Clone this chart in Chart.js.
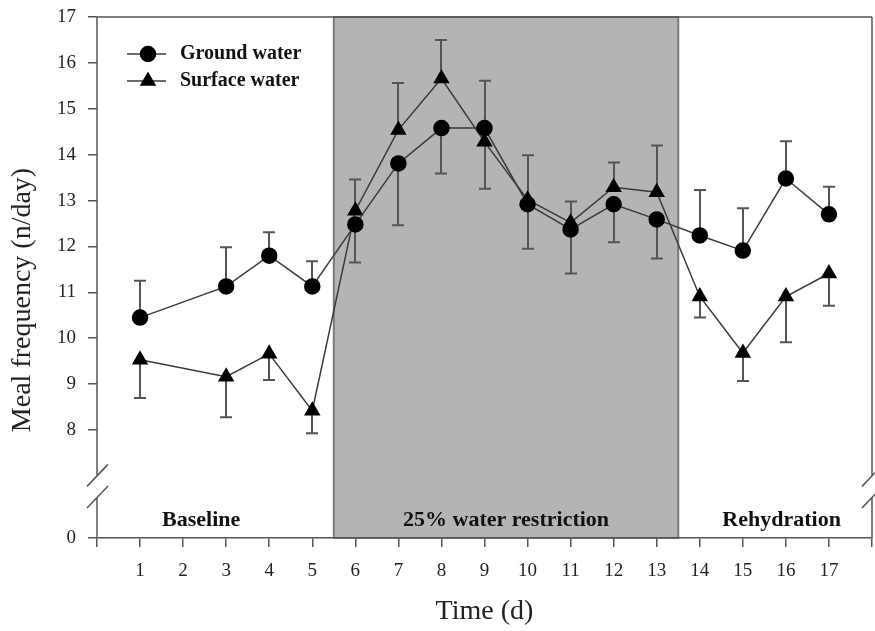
<!DOCTYPE html>
<html>
<head>
<meta charset="utf-8">
<title>Meal frequency</title>
<script src="https://cdn.jsdelivr.net/npm/chart.js@4/dist/chart.umd.min.js"></script>
<style>
  html, body { margin: 0; padding: 0; background: #fff; overflow: hidden; }
  canvas { display: block; }
</style>
</head>
<body>
<canvas id="mealChart" width="875" height="631"></canvas>
<script>
// values (n/day), day 2 has no sample
const days = [1, 3, 4, 5, 6, 7, 8, 9, 10, 11, 12, 13, 14, 15, 16, 17];
const groundWater = [10.45, 11.13, 11.80, 11.13, 12.48, 13.81, 14.58, 14.58, 12.92, 12.37, 12.92, 12.59, 12.24, 11.91, 13.48, 12.70];
const groundSE = [0.80, 0.85, 0.51, 0.55, 0.83, 1.35, 0.99, 1.03, 0.97, 0.96, 0.83, 0.85, 0.99, 0.92, 0.81, 0.60];
const surfaceWater = [9.53, 9.16, 9.66, 8.42, 12.78, 14.54, 15.66, 14.28, 13.02, 12.52, 13.29, 13.18, 10.91, 9.68, 10.91, 11.41];
const surfaceSE = [0.83, 0.88, 0.57, 0.49, 0.68, 1.02, 0.84, 1.02, 0.97, 0.46, 0.54, 1.02, 0.46, 0.61, 1.00, 0.70];
const yTicks = [0, 8, 9, 10, 11, 12, 13, 14, 15, 16, 17];
const phaseNames = ['Baseline', '25% water restriction', 'Rehydration'];
const restriction = [5.5, 13.5]; // shaded days

// broken axis: 0 is drawn just below the 8..17 part
const yZero = 5.647;
const toAxis = v => (v === 0 ? yZero : v);

const SERIF = "'Liberation Serif', 'Times New Roman', serif";
const AXIS = '#555';

const shading = {
    id: 'shading',
    beforeDraw(chart) {
        const {ctx, chartArea: a, scales: {x}} = chart;
        const x0 = x.getPixelForValue(restriction[0]);
        const x1 = x.getPixelForValue(restriction[1]);
        ctx.save();
        ctx.fillStyle = '#b4b4b4';
        ctx.fillRect(x0, a.top, x1 - x0, a.bottom - a.top);
        ctx.strokeStyle = '#7a7a7a';
        ctx.lineWidth = 2;
        ctx.strokeRect(x0, a.top, x1 - x0, a.bottom - a.top);
        ctx.restore();
    }
};

const errorBars = {
    id: 'errorBars',
    beforeDatasetsDraw(chart) {
        const {ctx, scales: {x, y}} = chart;
        const sets = chart.data.datasets;
        ctx.save();
        ctx.strokeStyle = '#555';
        ctx.lineWidth = 2;
        sets.forEach((ds, i) => {
            const other = sets[1 - i];
            ds.data.forEach((p, j) => {
                // bar points away from the other series
                const up = p.y >= other.data[j].y;
                const end = up ? p.y + ds.errors[j] : p.y - ds.errors[j];
                const px = Math.round(x.getPixelForValue(p.x));
                const py = y.getPixelForValue(p.y);
                const pe = y.getPixelForValue(end);
                ctx.beginPath();
                ctx.moveTo(px, py);
                ctx.lineTo(px, pe);
                ctx.moveTo(px - 6, pe);
                ctx.lineTo(px + 6, pe);
                ctx.stroke();
            });
        });
        ctx.restore();
    }
};

const frame = {
    id: 'frame',
    afterDraw(chart) {
        const {ctx, chartArea: a, scales: {x, y}} = chart;
        const p8 = y.getPixelForValue(8);
        const p0 = y.getPixelForValue(yZero);
        const b1 = p8 + (p0 - p8) * 0.42;
        const b2 = p8 + (p0 - p8) * 0.62;
        ctx.save();
        ctx.strokeStyle = AXIS;
        ctx.lineWidth = 1.5;
        ctx.beginPath();
        ctx.moveTo(a.left, a.top);
        ctx.lineTo(a.right, a.top);
        [a.left, a.right].forEach(ex => {
            ctx.moveTo(ex, a.top);
            ctx.lineTo(ex, b1);
            ctx.moveTo(ex, b2);
            ctx.lineTo(ex, a.bottom);
            // break marks
            [b1, b2].forEach(by => {
                ctx.moveTo(ex - 10, by + 11);
                ctx.lineTo(ex + 11, by - 11);
            });
        });
        ctx.stroke();

        // phase names
        ctx.fillStyle = '#111';
        ctx.font = 'bold 22px ' + SERIF;
        ctx.textAlign = 'center';
        ctx.textBaseline = 'alphabetic';
        const labelX = [2.42, 9.5, 15.9];
        phaseNames.forEach((t, i) => ctx.fillText(t, x.getPixelForValue(labelX[i]), 526));

        // legend
        ctx.font = 'bold 20px ' + SERIF;
        ctx.textAlign = 'left';
        ctx.textBaseline = 'middle';
        chart.data.datasets.forEach((ds, i) => {
            const ly = 54 + i * 27;
            ctx.strokeStyle = ds.borderColor;
            ctx.lineWidth = 1.5;
            ctx.beginPath();
            ctx.moveTo(127, ly);
            ctx.lineTo(166, ly);
            ctx.stroke();
            ctx.fillStyle = '#000';
            ctx.strokeStyle = '#000';
            Chart.helpers.drawPoint(ctx, {pointStyle: ds.pointStyle, radius: ds.pointRadius, borderWidth: 1}, 148, ly);
            ctx.fillStyle = '#111';
            ctx.fillText(ds.label, 180, ly);
        });

        // y title, sits a little below the middle in the original
        ctx.font = '28px ' + SERIF;
        ctx.fillStyle = '#222';
        ctx.textAlign = 'center';
        ctx.translate(23, 300);
        ctx.rotate(-Math.PI / 2);
        ctx.fillText('Meal frequency (n/day)', 0, 0);
        ctx.restore();
    }
};

new Chart(document.getElementById('mealChart'), {
    type: 'scatter',
    data: {
        datasets: [{
            label: 'Ground water',
            data: days.map((d, i) => ({x: d, y: groundWater[i]})),
            errors: groundSE,
            showLine: true,
            borderColor: '#3a3a3a',
            borderWidth: 1.5,
            pointStyle: 'circle',
            pointRadius: 7.5,
            pointBackgroundColor: '#000',
            pointBorderColor: '#000'
        }, {
            label: 'Surface water',
            data: days.map((d, i) => ({x: d, y: surfaceWater[i]})),
            errors: surfaceSE,
            showLine: true,
            borderColor: '#3a3a3a',
            borderWidth: 1.5,
            pointStyle: 'triangle',
            pointRadius: 8,
            pointBackgroundColor: '#000',
            pointBorderColor: '#000'
        }]
    },
    options: {
        responsive: false,
        animation: false,
        layout: {autoPadding: false, padding: {top: 17, right: 3, left: 0, bottom: 0}},
        plugins: {
            legend: {display: false},
            tooltip: {enabled: false}
        },
        scales: {
            x: {
                type: 'linear',
                min: 0,
                max: 18,
                afterFit: s => { s.height = 93; s.paddingLeft = 0; s.paddingRight = 0; },
                border: {display: true, color: AXIS, width: 1.5},
                grid: {drawOnChartArea: false, tickLength: 9, color: AXIS, lineWidth: 1.5},
                ticks: {
                    stepSize: 1,
                    autoSkip: false,
                    maxRotation: 0,
                    padding: 13,
                    color: '#222',
                    font: {family: SERIF, size: 19},
                    callback: v => (v >= 1 && v <= 17 ? v : '')
                },
                title: {
                    display: true,
                    text: 'Time (d)',
                    color: '#222',
                    font: {family: SERIF, size: 28},
                    padding: {top: 0, bottom: 3}
                }
            },
            y: {
                type: 'linear',
                min: yZero,
                max: 17,
                afterFit: s => { s.width = 97; s.paddingTop = 0; s.paddingBottom = 0; },
                afterBuildTicks: s => { s.ticks = yTicks.map(v => ({value: toAxis(v)})); },
                border: {display: false},
                grid: {drawOnChartArea: false, tickLength: 9, color: AXIS, lineWidth: 1.5},
                ticks: {
                    padding: 12,
                    color: '#222',
                    font: {family: SERIF, size: 19},
                    callback: v => (v === yZero ? '0' : v)
                },
                title: {display: false}
            }
        }
    },
    plugins: [shading, errorBars, frame]
});
</script>
</body>
</html>
